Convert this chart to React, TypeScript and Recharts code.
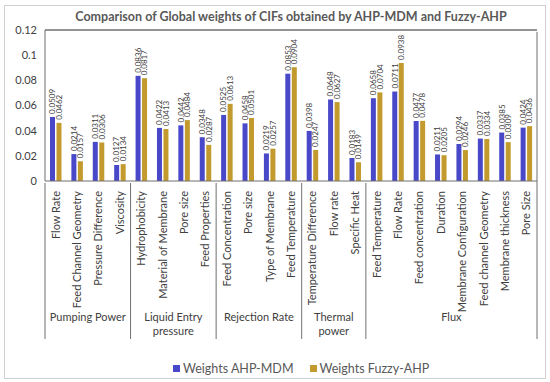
import { Bar, BarChart, LabelList, Legend, ReferenceLine, XAxis, YAxis } from "recharts";

const groupLines = [["Pumping Power"], ["Liquid Entry", "pressure"], ["Rejection Rate"], ["Thermal", "power"], ["Flux"]];

const categories = [
  "Flow Rate", "Feed Channel Geometry", "Pressure Difference", "Viscosity",
  "Hydrophobicity", "Material of Membrane", "Pore size", "Feed Properties",
  "Feed Concentration", "Pore size", "Type of Membrane", "Feed Temperature",
  "Temperature Difference", "Flow rate", "Specific Heat",
  "Feed Temperature", "Flow Rate", "Feed concentration", "Duration",
  "Membrane Configuration", "Feed channel Geometry", "Membrane thickness", "Pore Size",
];
const groupOf = [0, 0, 0, 0, 1, 1, 1, 1, 2, 2, 2, 2, 3, 3, 3, 4, 4, 4, 4, 4, 4, 4, 4];

const ahpMdm = [
  0.0509, 0.0214, 0.0311, 0.0127,
  0.0836, 0.0422, 0.0442, 0.0348,
  0.0525, 0.0458, 0.0219, 0.0853,
  0.0398, 0.0648, 0.0183,
  0.0658, 0.0711, 0.0477, 0.0211, 0.0294, 0.0337, 0.0385, 0.0424,
];
const fuzzyAhp = [
  0.0462, 0.0157, 0.0306, 0.0134,
  0.0817, 0.0413, 0.0484, 0.0287,
  0.0613, 0.0501, 0.0257, 0.0904,
  0.0247, 0.0627, 0.0149,
  0.0704, 0.0938, 0.0478, 0.0205, 0.0246, 0.0334, 0.0309, 0.0436,
];

const yTicks = [0, 0.02, 0.04, 0.06, 0.08, 0.1, 0.12];

const data = categories.map((name, i) => ({ key: `c${i}`, name, ahp: ahpMdm[i], fuzzy: fuzzyAhp[i] }));

const W = 550;
const H = 382;
const PLOT_LEFT = 45;
const PLOT_RIGHT = 537;
const BW = (PLOT_RIGHT - PLOT_LEFT) / categories.length;
const FONT = "Lato, 'Open Sans', sans-serif";
const TEXT = "#404040";
const LINE = "#6f6f6f";
const BLUE = "#4848c8";
const GOLD = "#c39a2e";

function CatTick(props: any) {
  const { x, y, index } = props;
  const tx = x + 4;
  const ty = y + 2;
  return (
    <text x={tx} y={ty} transform={`rotate(-90 ${tx} ${ty})`} textAnchor="end" fontSize={11} fill={TEXT} fontFamily={FONT}>
      {categories[index]}
    </text>
  );
}

function GroupTick(props: any) {
  const { x, y, index } = props;
  const g = groupOf[index];
  const first = index === 0 || groupOf[index - 1] !== g;
  const last = index === categories.length - 1;
  const count = groupOf.filter((v) => v === g).length;
  const left = x - BW / 2;
  const top = y - 126;
  const bottom = y + 30;
  const lines = groupLines[g];
  const cx = left + (count * BW) / 2;
  return (
    <g>
      {first && <line x1={left} x2={left} y1={top} y2={bottom} stroke={LINE} />}
      {last && <line x1={x + BW / 2} x2={x + BW / 2} y1={top - 151} y2={bottom} stroke={LINE} />}
      {first && (
        <text x={cx} y={y + 12} textAnchor="middle" fontSize={11} fill={TEXT} fontFamily={FONT}>
          {lines.map((l, i) => (
            <tspan key={l} x={cx} dy={i === 0 ? 0 : 14}>
              {l}
            </tspan>
          ))}
        </text>
      )}
    </g>
  );
}

function BarValue(props: any) {
  const { x, y, width, value } = props;
  const cx = x + width / 2;
  const ty = y - 3;
  return (
    <text x={cx} y={ty} dy="0.35em" transform={`rotate(-90 ${cx} ${ty})`} textAnchor="start" fontSize={8} fill={TEXT} fontFamily={FONT}>
      {Number(value).toFixed(4)}
    </text>
  );
}

function LegendBox() {
  const item = (color: string, label: string, gap: number) => (
    <div style={{ display: "flex", alignItems: "center", marginRight: gap }}>
      <span style={{ width: 7, height: 7, background: color, marginRight: 3 }} />
      <span style={{ fontSize: 12.5, color: "#595959", fontFamily: FONT }}>{label}</span>
    </div>
  );
  return (
    <div style={{ height: 41, display: "flex", alignItems: "flex-end", paddingLeft: 173, paddingBottom: 6, boxSizing: "border-box" }}>
      {item(BLUE, "Weights AHP-MDM", 16)}
      {item(GOLD, "Weights Fuzzy-AHP", 0)}
    </div>
  );
}

export default function App() {
  return (
    <div style={{ position: "relative", width: W, height: H, background: "#fff", fontFamily: FONT }}>
      <style>{`body{margin:0}`}</style>
      <div style={{ position: "absolute", left: 4, top: 5, width: 540, height: 372, border: "1px solid #d0d0d0" }} />
      <div
        style={{
          position: "absolute",
          left: PLOT_LEFT,
          width: PLOT_RIGHT - PLOT_LEFT,
          top: 9,
          textAlign: "center",
          fontSize: 12.5,
          fontWeight: 700,
          color: "#595959",
        }}
      >
        Comparison of Global weights of CIFs obtained by AHP-MDM and Fuzzy-AHP
      </div>
      <BarChart
        width={W}
        height={H}
        data={data}
        margin={{ top: 30, right: W - PLOT_RIGHT, left: 0, bottom: 0 }}
        barSize={5}
        barGap={1.5}
      >
        <YAxis
          domain={[0, 0.12]}
          ticks={yTicks}
          width={PLOT_LEFT}
          tickLine={false}
          axisLine={{ stroke: LINE }}
          tick={{ fontSize: 11, fill: TEXT, fontFamily: FONT }}
          tickFormatter={(v: number) => String(v)}
          tickMargin={2}
        />
        <XAxis dataKey="key" interval={0} height={120} tickLine={false} axisLine={{ stroke: LINE }} tick={<CatTick />} />
        <XAxis xAxisId="grp" dataKey="key" interval={0} height={40} tickLine={false} axisLine={false} tick={<GroupTick />} />
        <ReferenceLine y={0.12} stroke={LINE} strokeWidth={1.5} ifOverflow="visible" />
        <Legend verticalAlign="bottom" content={() => <LegendBox />} />
        <Bar dataKey="ahp" name="Weights AHP-MDM" fill={BLUE} isAnimationActive={false}>
          <LabelList dataKey="ahp" content={<BarValue />} />
        </Bar>
        <Bar dataKey="fuzzy" name="Weights Fuzzy-AHP" fill={GOLD} isAnimationActive={false}>
          <LabelList dataKey="fuzzy" content={<BarValue />} />
        </Bar>
      </BarChart>
    </div>
  );
}
